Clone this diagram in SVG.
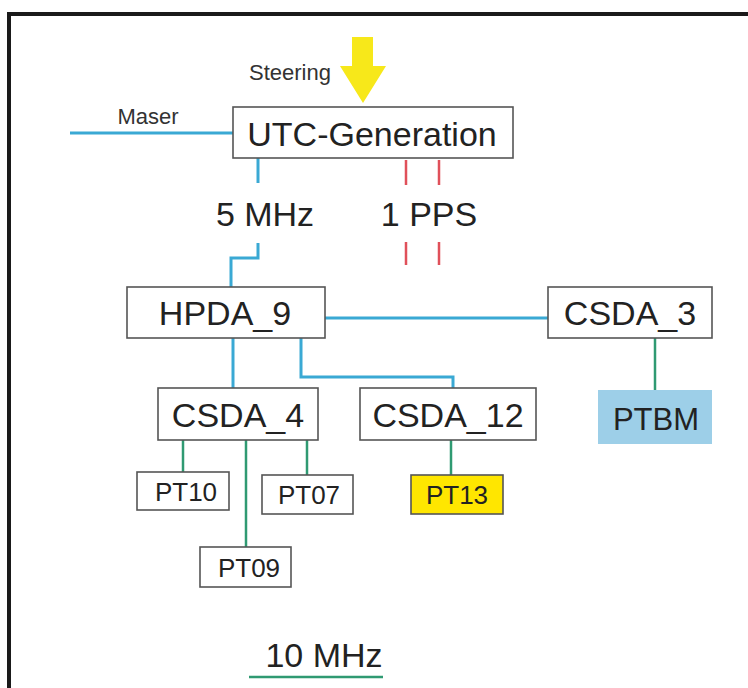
<svg xmlns="http://www.w3.org/2000/svg" width="748" height="688" viewBox="0 0 748 688">
<style>
.box{fill:#fff;stroke:#555;stroke-width:1.6}
.t{font-family:"Liberation Sans",Arial,sans-serif;fill:#222;text-anchor:middle}
.big{font-size:34px}
.sm{font-size:26px}
.lbl{font-size:22px;fill:#333}
.blue{stroke:#3aa9d4;stroke-width:3;fill:none}
.green{stroke:#2f9a72;stroke-width:2.5;fill:none}
.red{stroke:#e0505a;stroke-width:2.5;fill:none}
</style>
<rect x="0" y="0" width="748" height="688" fill="#fff"/>
<path d="M9 688 V14 H748" fill="none" stroke="#1a1a1a" stroke-width="4"/>
<g id="connectors">
<path class="blue" d="M70 133 H234"/>
<path class="blue" d="M258 158 V183"/>
<path class="blue" d="M258 243 V258 H231 V287"/>
<path class="blue" d="M325 318 H548"/>
<path class="blue" d="M233 338 V388"/>
<path class="blue" d="M301 338 V377 H453 V388"/>
<path class="red" d="M406 160 V185 M439 160 V185 M406 242 V265 M439 242 V265"/>
<path class="green" d="M655 338 V390"/>
<path class="green" d="M183 440 V472"/>
<path class="green" d="M246 440 V547"/>
<path class="green" d="M307 440 V475"/>
<path class="green" d="M451 440 V475"/>
<path class="green" d="M249 677 H383" stroke-width="3"/>
</g>
<g id="steering">
<text class="t lbl" x="290" y="80">Steering</text>
<path d="M352 37 H373 V66 H386 L363 103 L340 66 H352 Z" fill="#f7e81a"/>
</g>
<g id="maser"><text class="t lbl" x="148" y="124">Maser</text></g>
<g id="utc"><rect class="box" x="233" y="107" width="280" height="51"/><text class="t big" x="372" y="146" font-size="35">UTC-Generation</text></g>
<g id="mhz5"><text class="t big" x="265" y="226">5 MHz</text></g>
<g id="pps"><text class="t big" x="429" y="226">1 PPS</text></g>
<g id="hpda9"><rect class="box" x="127" y="287" width="198" height="51"/><text class="t big" x="225" y="325">HPDA_9</text></g>
<g id="csda3"><rect class="box" x="548" y="287" width="164" height="51"/><text class="t big" x="630" y="325">CSDA_3</text></g>
<g id="csda4"><rect class="box" x="158" y="388" width="160" height="52"/><text class="t big" x="238" y="427">CSDA_4</text></g>
<g id="csda12"><rect class="box" x="360" y="388" width="176" height="52"/><text class="t big" x="448" y="427">CSDA_12</text></g>
<g id="ptbm"><rect x="598" y="390" width="114" height="54" fill="#9dcfe8"/><text class="t" x="656" y="430" font-size="31">PTBM</text></g>
<g id="pt10"><rect class="box" x="137" y="472" width="92" height="38"/><text class="t sm" x="186" y="501">PT10</text></g>
<g id="pt07"><rect class="box" x="262" y="475" width="91" height="39"/><text class="t sm" x="309" y="504">PT07</text></g>
<g id="pt13"><rect class="box" x="411" y="475" width="92" height="39" style="fill:#ffe600"/><text class="t sm" x="457" y="504">PT13</text></g>
<g id="pt09"><rect class="box" x="200" y="547" width="91" height="40"/><text class="t sm" x="249" y="577">PT09</text></g>
<g id="mhz10"><text class="t big" x="324" y="667">10 MHz</text></g>
</svg>
